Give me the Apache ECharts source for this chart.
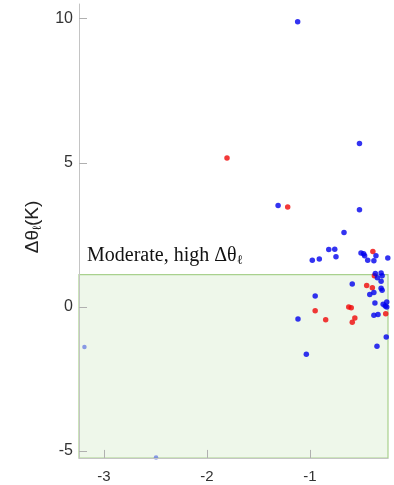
<!DOCTYPE html>
<html>
<head>
<meta charset="utf-8">
<script src="https://cdn.jsdelivr.net/npm/echarts@6/dist/echarts.min.js"></script>
<style>
  html, body { margin: 0; padding: 0; background: #fff; }
  #chart { width: 394px; height: 485px; }
</style>
</head>
<body>
<div id="chart"></div>
<script>
const xTicks = [-3, -2, -1];
const yTicks = [-5, 0, 5, 10];

// [x, Δθℓ] pairs
const bluePoints = [
  [-1.12, 9.89], [-0.52, 5.67], [-1.31, 3.52], [-0.52, 3.37], [-0.67, 2.58],
  [-0.818, 1.99], [-0.76, 2.0], [-0.748, 1.74], [-0.978, 1.62], [-0.91, 1.66],
  [-0.505, 1.875], [-0.48, 1.85], [-0.47, 1.78], [-0.36, 1.78], [-0.44, 1.62],
  [-0.38, 1.6], [-0.245, 1.7], [-0.366, 1.16], [-0.31, 1.18], [-0.346, 1.01],
  [-0.30, 1.08], [-0.31, 0.89], [-0.59, 0.8], [-0.31, 0.65], [-0.30, 0.58],
  [-0.38, 0.5], [-0.42, 0.43], [-0.95, 0.38], [-0.255, 0.17], [-0.37, 0.14],
  [-0.29, 0.09], [-0.27, 0.03], [-0.255, 0.0], [-0.34, -0.26], [-0.38, -0.29],
  [-1.117, -0.42], [-0.26, -1.04], [-0.35, -1.36], [-1.036, -1.64]
];
const redPoints = [
  [-1.806, 5.17], [-1.217, 3.47], [-0.39, 1.92], [-0.375, 1.08], [-0.45, 0.74],
  [-0.395, 0.67], [-0.624, 0.0], [-0.60, -0.03], [-0.95, -0.13], [-0.265, -0.24],
  [-0.565, -0.38], [-0.848, -0.44], [-0.59, -0.53]
];
const paleBluePoints = [[-3.19, -1.39], [-2.495, -5.22]];

const xMin = -3.243, xMax = -0.243;
const yMin = -5.24, yMax = 10.51;
const boxTop = 1.125;

const chart = echarts.init(document.getElementById('chart'));

const gray = '#c4c4c4';
const tickGray = '#b0b0b0';

// short inward tick strokes inside the shaded box (about 8px long)
const xTickLen = 0.28, yTickLen = 0.078;
const tickSegments = [];
xTicks.forEach(v => tickSegments.push([{ coord: [v, yMin] }, { coord: [v, yMin + xTickLen] }]));
yTicks.filter(v => v < boxTop).forEach(v => tickSegments.push([{ coord: [xMin, v] }, { coord: [xMin + yTickLen, v] }]));

chart.setOption({
  animation: false,
  grid: { left: 79, right: 6, top: 4, bottom: 27 },
  xAxis: {
    type: 'value', min: xMin, max: xMax, z: 3,
    splitLine: { show: false },
    axisLine: { show: true, onZero: false, lineStyle: { color: gray } },
    axisTick: { show: true, inside: true, length: 8, customValues: xTicks, lineStyle: { color: tickGray } },
    axisLabel: { customValues: xTicks, color: '#333', fontSize: 15, fontFamily: 'Liberation Sans', margin: 11 }
  },
  yAxis: {
    type: 'value', min: yMin, max: yMax, z: 3,
    splitLine: { show: false },
    axisLine: { show: true, onZero: false, lineStyle: { color: gray } },
    axisTick: { show: true, inside: true, length: 8, customValues: yTicks, lineStyle: { color: tickGray } },
    axisLabel: { customValues: yTicks, color: '#333', fontSize: 16, fontFamily: 'Liberation Sans', margin: 6 }
  },
  graphic: [
    {
      type: 'text', left: 87, top: 246, z: 10,
      style: {
        text: '{a|Moderate, high Δθ}{s|ℓ}',
        rich: {
          a: { fontFamily: 'Liberation Serif', fontSize: 20, fill: '#111' },
          s: { fontFamily: 'Liberation Serif', fontSize: 13, fill: '#111', padding: [9, 0, 0, 0] }
        }
      }
    },
    {
      type: 'text', x: 33, y: 227, rotation: Math.PI / 2, z: 10,
      style: {
        text: '{a|Δθ}{s|ℓ}{a|(K)}',
        align: 'center', verticalAlign: 'middle',
        rich: {
          a: { fontFamily: 'Liberation Sans', fontSize: 19, fill: '#222' },
          s: { fontFamily: 'Liberation Sans', fontSize: 12, fill: '#222', padding: [9, 0, 0, 0] }
        }
      }
    }
  ],
  series: [
    {
      // shaded region plus its tick strokes
      type: 'scatter', data: [], clip: true, z: 1,
      markArea: {
        silent: true, z: 1,
        itemStyle: { color: 'rgba(170,215,150,0.2)', borderColor: '#a9d18e', borderWidth: 1.2 },
        data: [[{ coord: [xMin, yMin] }, { coord: [xMax, boxTop] }]]
      },
      markLine: {
        silent: true, z: 2, symbol: 'none',
        label: { show: false },
        lineStyle: { color: tickGray, type: 'solid', width: 1 },
        data: tickSegments
      }
    },
    {
      type: 'scatter', data: paleBluePoints, symbolSize: 4.5, clip: false,
      itemStyle: { color: 'rgba(90,110,225,0.85)' }
    },
    {
      type: 'scatter', data: redPoints, symbolSize: 5.5, clip: true,
      itemStyle: { color: '#f00808' }
    },
    {
      type: 'scatter', data: bluePoints, symbolSize: 5.5, clip: true,
      itemStyle: { color: '#0000ee' }
    }
  ]
});
</script>
</body>
</html>
